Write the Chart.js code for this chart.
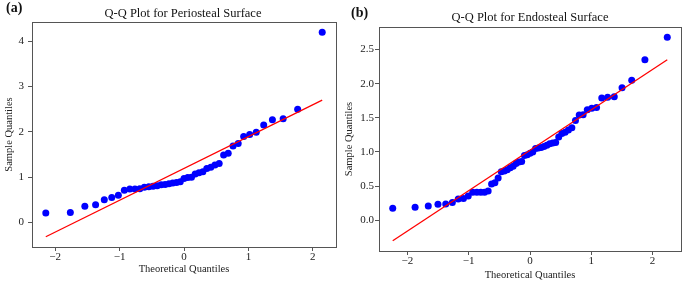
<!DOCTYPE html>
<html>
<head>
<meta charset="utf-8">
<script src="https://cdn.jsdelivr.net/npm/chart.js@4.4.1/dist/chart.umd.min.js"></script>
<style>
  html, body { margin: 0; padding: 0; background: #fff; }
  body { width: 685px; height: 283px; position: relative; overflow: hidden; font-family: "Liberation Serif", "Times New Roman", serif; }
  .box { position: absolute; top: 0; height: 283px; }
  .lbl { position: absolute; white-space: nowrap; color: #111; line-height: 1; }
  .panel { font-weight: bold; font-size: 14px; }
  .title { font-size: 12.5px; transform: translate(-50%, -50%); }
</style>
</head>
<body>
<div class="box" style="left:0;width:342px;"><canvas id="c1" width="342" height="283"></canvas></div>
<div class="box" style="left:342px;width:343px;"><canvas id="c2" width="343" height="283"></canvas></div>
<div class="lbl panel" style="left:6px;top:1px;">(a)</div>
<div class="lbl panel" style="left:351px;top:6px;">(b)</div>
<div class="lbl title" style="left:183px;top:13px;">Q-Q Plot for Periosteal Surface</div>
<div class="lbl title" style="left:530px;top:17px;">Q-Q Plot for Endosteal Surface</div>
<script>
// ---- Data ----
const periTheoretical = [-2.145,-1.764,-1.539,-1.372,-1.237,-1.121,-1.019,-0.926,-0.841,-0.761,-0.686,-0.615,-0.546,-0.480,-0.416,-0.354,-0.293,-0.233,-0.174,-0.116,-0.058,0,0.058,0.116,0.174,0.233,0.293,0.354,0.416,0.480,0.546,0.615,0.686,0.761,0.841,0.926,1.019,1.121,1.237,1.372,1.539,1.764,2.145];
const periSample = [0.21,0.22,0.36,0.39,0.50,0.55,0.60,0.71,0.74,0.74,0.745,0.78,0.79,0.80,0.81,0.83,0.84,0.855,0.87,0.88,0.90,0.97,0.99,1.00,1.07,1.10,1.12,1.19,1.22,1.27,1.30,1.49,1.53,1.69,1.745,1.90,1.94,1.99,2.15,2.27,2.29,2.50,4.20];
const periLineX = [-2.145, 2.145];
const periLineY = [-0.316, 2.70];

const endoTheoretical = [-2.240,-1.875,-1.660,-1.502,-1.375,-1.267,-1.171,-1.086,-1.008,-0.935,-0.867,-0.803,-0.742,-0.683,-0.627,-0.573,-0.520,-0.469,-0.419,-0.371,-0.322,-0.275,-0.228,-0.182,-0.136,-0.091,-0.045,0,0.045,0.091,0.136,0.182,0.228,0.275,0.322,0.371,0.419,0.469,0.520,0.573,0.627,0.683,0.742,0.803,0.867,0.935,1.008,1.086,1.171,1.267,1.375,1.502,1.660,1.875,2.240];
const endoSample = [0.175,0.19,0.21,0.235,0.24,0.26,0.31,0.32,0.355,0.41,0.41,0.41,0.41,0.43,0.53,0.55,0.62,0.71,0.72,0.74,0.77,0.79,0.83,0.855,0.86,0.95,0.96,0.98,1.00,1.05,1.06,1.065,1.08,1.10,1.12,1.13,1.14,1.22,1.27,1.29,1.32,1.355,1.46,1.54,1.545,1.62,1.64,1.65,1.79,1.80,1.81,1.94,2.05,2.35,2.68];
const endoLineX = [-2.240, 2.240];
const endoLineY = [-0.30, 2.35];

const xTickValues = [-2, -1, 0, 1, 2];
const periYTicks = [0, 1, 2, 3, 4];
const endoYTicks = [0.0, 0.5, 1.0, 1.5, 2.0, 2.5];

const xLabel = 'Theoretical Quantiles';
const yLabel = 'Sample Quantiles';

// ---- helpers ----
const FONT = '"Liberation Serif", "Times New Roman", serif';
const frameColor = '#555555';

const framePlugin = {
  id: 'frame',
  afterDraw(chart) {
    const a = chart.chartArea, ctx = chart.ctx;
    ctx.save();
    ctx.strokeStyle = frameColor;
    ctx.lineWidth = 1;
    ctx.strokeRect(Math.round(a.left) + 0.5, Math.round(a.top) + 0.5, Math.round(a.right - a.left), Math.round(a.bottom - a.top));
    ctx.restore();
  }
};

function pts(xs, ys) { return xs.map((x, i) => ({ x: x, y: ys[i] })); }

function fmtMinus(decimals) {
  return function (v) {
    const s = decimals ? Number(v).toFixed(decimals) : String(Math.round(v));
    return s.replace('-', '\u2212');
  };
}

function makeChart(id, cfg) {
  new Chart(document.getElementById(id), {
    type: 'scatter',
    data: {
      datasets: [
        {
          type: 'line',
          data: pts(cfg.lineX, cfg.lineY),
          borderColor: '#ff0000',
          borderWidth: 1.3,
          pointRadius: 0,
          fill: false,
          tension: 0
        },
        {
          type: 'scatter',
          data: pts(cfg.xs, cfg.ys),
          backgroundColor: '#0000ff',
          borderColor: '#0000ff',
          borderWidth: 0,
          pointRadius: 3.5
        }
      ]
    },
    options: {
      responsive: false,
      animation: false,
      devicePixelRatio: 1,
      layout: { padding: { top: cfg.top, right: cfg.right, left: 0, bottom: 0 } },
      plugins: { legend: { display: false }, tooltip: { enabled: false }, title: { display: false } },
      scales: {
        x: {
          type: 'linear',
          min: cfg.xmin, max: cfg.xmax,
          afterBuildTicks: s => { s.ticks = xTickValues.map(v => ({ value: v })); },
          afterFit: s => { s.height = cfg.xAxisH; },
          grid: { display: true, drawOnChartArea: false, drawTicks: true, tickLength: 4, color: frameColor },
          border: { display: true, color: frameColor, width: 1 },
          ticks: { color: '#222', padding: cfg.xTickPad, font: { family: FONT, size: 11 }, callback: fmtMinus(0), maxRotation: 0 },
          title: { display: true, text: xLabel, color: '#222', font: { family: FONT, size: 10.5 }, padding: { top: 0, bottom: cfg.xTitlePad } }
        },
        y: {
          type: 'linear',
          min: cfg.ymin, max: cfg.ymax,
          afterBuildTicks: s => { s.ticks = cfg.yTicks.map(v => ({ value: v })); },
          afterFit: s => { s.width = cfg.yAxisW; },
          grid: { display: true, drawOnChartArea: false, drawTicks: true, tickLength: 4, color: frameColor },
          border: { display: true, color: frameColor, width: 1 },
          ticks: { color: '#222', padding: cfg.yTickPad, font: { family: FONT, size: 11 }, callback: fmtMinus(cfg.yDec) },
          title: { display: true, text: yLabel, color: '#222', font: { family: FONT, size: 10.5 }, padding: { top: cfg.yTitlePad, bottom: 0 } }
        }
      }
    },
    plugins: [framePlugin]
  });
}

makeChart('c1', {
  xs: periTheoretical, ys: periSample, lineX: periLineX, lineY: periLineY,
  xmin: -2.359, xmax: 2.359, ymin: -0.542, ymax: 4.426, yTicks: periYTicks, yDec: 0,
  top: 22, right: 6, xAxisH: 36, yAxisW: 32,
  xTickPad: 0, yTickPad: 4, xTitlePad: 7, yTitlePad: 3
});

makeChart('c2', {
  xs: endoTheoretical, ys: endoSample, lineX: endoLineX, lineY: endoLineY,
  xmin: -2.464, xmax: 2.464, ymin: -0.45, ymax: 2.83, yTicks: endoYTicks, yDec: 1,
  top: 27, right: 3, xAxisH: 32, yAxisW: 37,
  xTickPad: 0, yTickPad: 1, xTitlePad: 1, yTitlePad: 1
});
</script>
</body>
</html>
